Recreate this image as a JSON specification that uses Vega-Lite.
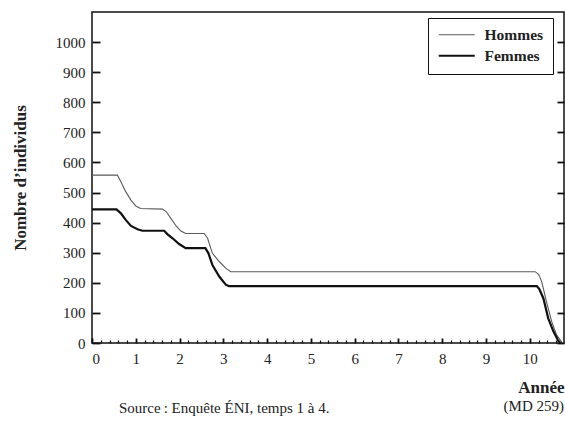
{
  "$schema": "https://vega.github.io/schema/vega-lite/v6.json",
  "width": 472,
  "height": 331,
  "autosize": {"type": "none"},
  "padding": {"left": 92, "top": 12, "right": 1, "bottom": 85},
  "background": "white",
  "title": {
    "text": "Source\u202f: Enquête ÉNI, temps 1 à 4.",
    "orient": "bottom",
    "anchor": "start",
    "frame": "group",
    "dx": 27,
    "offset": -13,
    "font": "Liberation Serif",
    "fontSize": 15,
    "fontWeight": "normal",
    "color": "#222"
  },
  "data": {
    "values": [
      {"t": 0, "n": 558, "sexe": "Hommes"},
      {"t": 0.58, "n": 558, "sexe": "Hommes"},
      {"t": 0.66, "n": 536, "sexe": "Hommes"},
      {"t": 0.77, "n": 503, "sexe": "Hommes"},
      {"t": 0.89, "n": 475, "sexe": "Hommes"},
      {"t": 1.0, "n": 455, "sexe": "Hommes"},
      {"t": 1.11, "n": 447, "sexe": "Hommes"},
      {"t": 1.61, "n": 445, "sexe": "Hommes"},
      {"t": 1.7, "n": 436, "sexe": "Hommes"},
      {"t": 1.8, "n": 414, "sexe": "Hommes"},
      {"t": 1.92, "n": 389, "sexe": "Hommes"},
      {"t": 2.03, "n": 372, "sexe": "Hommes"},
      {"t": 2.14, "n": 364, "sexe": "Hommes"},
      {"t": 2.56, "n": 364, "sexe": "Hommes"},
      {"t": 2.64, "n": 348, "sexe": "Hommes"},
      {"t": 2.75, "n": 298, "sexe": "Hommes"},
      {"t": 2.91, "n": 270, "sexe": "Hommes"},
      {"t": 3.06, "n": 248, "sexe": "Hommes"},
      {"t": 3.17, "n": 237, "sexe": "Hommes"},
      {"t": 10.12, "n": 237, "sexe": "Hommes"},
      {"t": 10.2, "n": 228, "sexe": "Hommes"},
      {"t": 10.27, "n": 205, "sexe": "Hommes"},
      {"t": 10.38, "n": 137, "sexe": "Hommes"},
      {"t": 10.5, "n": 71, "sexe": "Hommes"},
      {"t": 10.61, "n": 27, "sexe": "Hommes"},
      {"t": 10.73, "n": 3, "sexe": "Hommes"},
      {"t": 10.76, "n": 0, "sexe": "Hommes"},
      {"t": 0, "n": 444, "sexe": "Femmes"},
      {"t": 0.56, "n": 444, "sexe": "Femmes"},
      {"t": 0.66, "n": 431, "sexe": "Femmes"},
      {"t": 0.77, "n": 409, "sexe": "Femmes"},
      {"t": 0.89, "n": 389, "sexe": "Femmes"},
      {"t": 1.04, "n": 378, "sexe": "Femmes"},
      {"t": 1.15, "n": 373, "sexe": "Femmes"},
      {"t": 1.65, "n": 373, "sexe": "Femmes"},
      {"t": 1.72, "n": 362, "sexe": "Femmes"},
      {"t": 1.84, "n": 348, "sexe": "Femmes"},
      {"t": 1.99, "n": 329, "sexe": "Femmes"},
      {"t": 2.14, "n": 315, "sexe": "Femmes"},
      {"t": 2.59, "n": 315, "sexe": "Femmes"},
      {"t": 2.66, "n": 298, "sexe": "Femmes"},
      {"t": 2.75, "n": 259, "sexe": "Femmes"},
      {"t": 2.91, "n": 220, "sexe": "Femmes"},
      {"t": 3.06, "n": 193, "sexe": "Femmes"},
      {"t": 3.13, "n": 189, "sexe": "Femmes"},
      {"t": 10.16, "n": 189, "sexe": "Femmes"},
      {"t": 10.22, "n": 178, "sexe": "Femmes"},
      {"t": 10.31, "n": 148, "sexe": "Femmes"},
      {"t": 10.42, "n": 82, "sexe": "Femmes"},
      {"t": 10.54, "n": 38, "sexe": "Femmes"},
      {"t": 10.65, "n": 7, "sexe": "Femmes"},
      {"t": 10.7, "n": 0, "sexe": "Femmes"}
    ]
  },
  "layer": [
    {
      "mark": {"type": "line", "interpolate": "linear", "clip": true},
      "encoding": {
        "x": {
          "field": "t",
          "type": "quantitative",
          "scale": {"domain": [0, 10.78], "nice": false, "zero": false},
          "axis": {
            "orient": "bottom",
            "values": [0, 1, 2, 3, 4, 5, 6, 7, 8, 9, 10],
            "format": "d",
            "title": "Année",
            "titleFontSize": 17,
            "titleAnchor": "end",
            "titleAlign": "right",
            "titlePadding": 13,
            "tickSize": -5,
            "labelPadding": 13
          }
        },
        "y": {
          "field": "n",
          "type": "quantitative",
          "scale": {"domain": [0, 1100], "nice": false},
          "axis": {
            "orient": "left",
            "values": [0, 100, 200, 300, 400, 500, 600, 700, 800, 900, 1000],
            "format": "d",
            "title": "Nombre d’individus",
            "titleFontSize": 17,
            "titlePadding": 26,
            "tickSize": -8,
            "labelPadding": 15
          }
        },
        "color": {
          "field": "sexe",
          "type": "nominal",
          "scale": {"domain": ["Hommes", "Femmes"], "range": ["#5a5a5a", "#111111"]},
          "legend": {"title": null}
        },
        "strokeWidth": {
          "field": "sexe",
          "type": "nominal",
          "scale": {"domain": ["Hommes", "Femmes"], "range": [1.1, 2.2]},
          "legend": {"title": null}
        }
      }
    },
    {
      "mark": {"type": "line", "opacity": 0},
      "encoding": {
        "x": {
          "field": "t",
          "type": "quantitative",
          "axis": {
            "orient": "bottom",
            "values": [0.2, 0.4, 0.6, 0.8, 1.2, 1.4, 1.6, 1.8, 2.2, 2.4, 2.6, 2.8, 3.2, 3.4, 3.6, 3.8, 4.2, 4.4, 4.6, 4.8, 5.2, 5.4, 5.6, 5.8, 6.2, 6.4, 6.6, 6.8, 7.2, 7.4, 7.6, 7.8, 8.2, 8.4, 8.6, 8.8, 9.2, 9.4, 9.6, 9.8, 10.2, 10.4, 10.6],
            "labels": false,
            "title": null,
            "tickSize": -3,
            "tickWidth": 1.2
          }
        },
        "y": {
          "field": "n",
          "type": "quantitative",
          "axis": {
            "orient": "right",
            "values": [0, 100, 200, 300, 400, 500, 600, 700, 800, 900, 1000],
            "labels": false,
            "title": null,
            "tickSize": -7
          }
        },
        "detail": {"field": "sexe", "type": "nominal"}
      }
    },
    {
      "data": {"values": [{"note": "(MD 259)"}]},
      "mark": {
        "type": "text",
        "align": "right",
        "baseline": "middle",
        "clip": false,
        "font": "Liberation Serif",
        "fontSize": 15,
        "color": "#222"
      },
      "encoding": {
        "x": {"datum": 10.78, "type": "quantitative", "axis": null},
        "y": {"datum": -210, "type": "quantitative", "axis": null},
        "text": {"field": "note", "type": "nominal"}
      }
    }
  ],
  "resolve": {"axis": {"x": "independent", "y": "independent"}},
  "config": {
    "view": {"stroke": "#111", "strokeWidth": 1.5},
    "axis": {
      "domain": false,
      "grid": false,
      "ticks": true,
      "tickColor": "#111",
      "tickWidth": 1.8,
      "labelFont": "Liberation Serif",
      "labelFontSize": 15,
      "labelColor": "#222",
      "titleFont": "Liberation Serif",
      "titleFontSize": 16,
      "titleFontWeight": "bold",
      "titleColor": "#222"
    },
    "legend": {
      "orient": "none",
      "legendX": 336,
      "legendY": 6,
      "padding": 9,
      "strokeColor": "#111",
      "fillColor": "white",
      "symbolType": "M-3,0H3",
      "symbolSize": 144,
      "symbolOffset": 12,
      "labelFont": "Liberation Serif",
      "labelFontSize": 15.5,
      "labelFontWeight": "bold",
      "labelColor": "#222",
      "labelOffset": 20,
      "rowPadding": 4
    }
  }
}
